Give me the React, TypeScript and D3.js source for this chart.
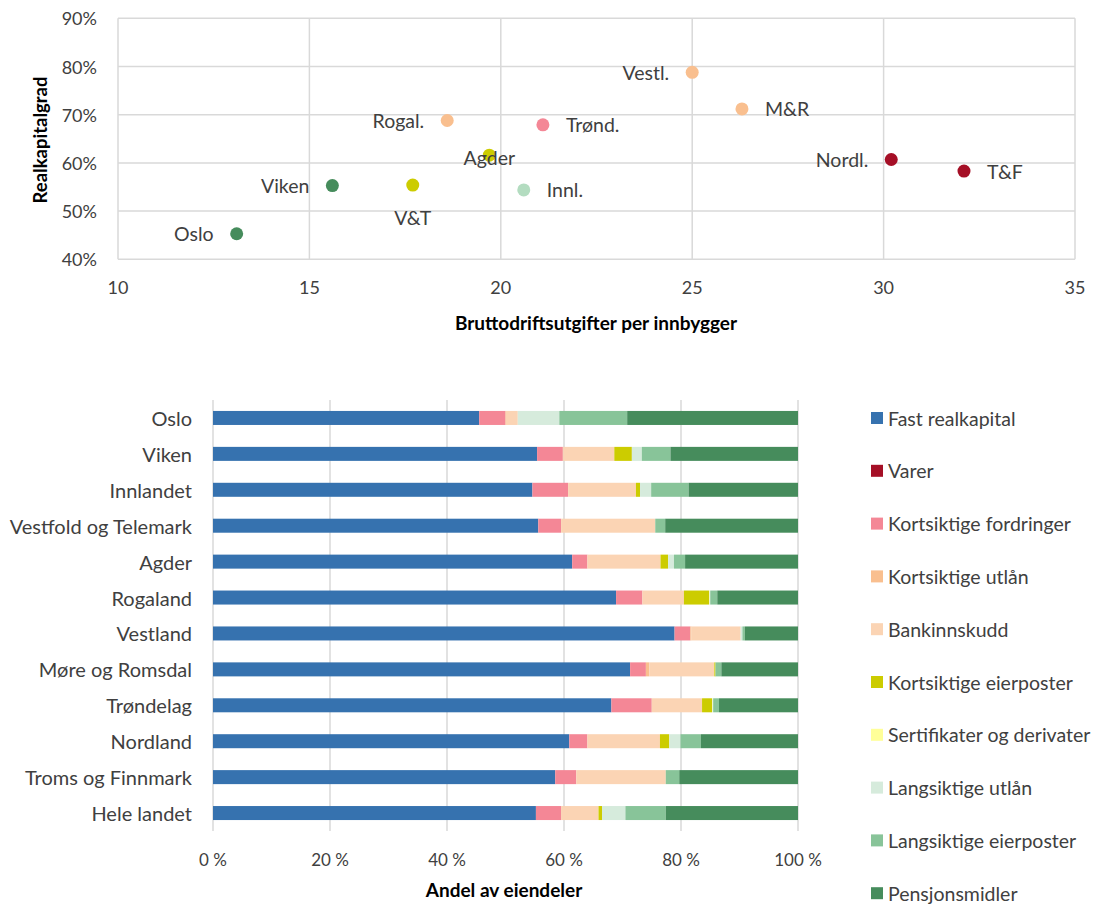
import React from "react";
import * as d3 from "d3";

// ---------- Scatter data ----------
const regionsShort = ["Oslo", "Viken", "V&T", "Rogal.", "Agder", "Innl.", "Trønd.", "Vestl.", "M&R", "Nordl.", "T&F"];
const driftsutgifter = [13.1, 15.6, 17.7, 18.6, 19.7, 20.6, 21.1, 25.0, 26.3, 30.2, 32.1];
const realkapitalgrad = [45.3, 55.3, 55.4, 68.8, 61.6, 54.4, 67.9, 78.8, 71.2, 60.7, 58.3];
const pointColors = ["#468c5c", "#468c5c", "#cccc00", "#f9bf8f", "#cccc00", "#b3dcc0", "#f48796", "#f9bf8f", "#f9bf8f", "#a50f26", "#a50f26"];
// label placement: l = left, r = right, b = below, c = centred
const labelPos = ["l", "l", "b", "l", "c", "r", "r", "l", "r", "l", "r"];
const xTicks = [10, 15, 20, 25, 30, 35];
const yTicks = [40, 50, 60, 70, 80, 90];

// ---------- Stacked bar data ----------
const categories = [
  "Oslo", "Viken", "Innlandet", "Vestfold og Telemark", "Agder", "Rogaland",
  "Vestland", "Møre og Romsdal", "Trøndelag", "Nordland", "Troms og Finnmark", "Hele landet",
];
const seriesNames = [
  "Fast realkapital", "Varer", "Kortsiktige fordringer", "Kortsiktige utlån", "Bankinnskudd",
  "Kortsiktige eierposter", "Sertifikater og derivater", "Langsiktige utlån", "Langsiktige eierposter", "Pensjonsmidler",
];
const seriesColors = ["#3672af", "#a50f26", "#f48796", "#f9bf8f", "#fbd4b4", "#cccc00", "#ffff99", "#d6ebdc", "#88c499", "#468c5c"];

const fastRealkapital = [45.5, 55.4, 54.6, 55.6, 61.4, 68.9, 78.9, 71.3, 68.1, 60.9, 58.5, 55.2];
const varer = [0, 0, 0, 0, 0, 0, 0, 0, 0, 0, 0, 0];
const kortsiktigeFordringer = [4.5, 4.4, 6.1, 3.9, 2.6, 4.5, 2.7, 2.7, 6.9, 3.1, 3.6, 4.3];
const kortsiktigeUtlan = [0.2, 0.1, 0, 0, 0, 0, 0.2, 0.6, 0, 0, 0, 0.1];
const bankinnskudd = [1.9, 8.7, 11.6, 16.1, 12.5, 7.1, 8.4, 11.1, 8.6, 12.4, 15.3, 6.3];
const kortsiktigeEierposter = [0, 3.0, 0.7, 0, 1.3, 4.3, 0, 0.2, 1.7, 1.6, 0, 0.6];
const sertifikater = [0, 0, 0, 0, 0, 0.1, 0, 0, 0.1, 0, 0, 0];
const langsiktigeUtlan = [7.1, 1.7, 1.9, 0, 1.0, 0.1, 0.3, 0, 0.1, 1.9, 0, 4.0];
const langsiktigeEierposter = [11.6, 4.9, 6.4, 1.7, 1.9, 1.2, 0.4, 1.0, 1.0, 3.5, 2.3, 6.9];
const pensjonsmidler = [29.2, 21.8, 18.7, 22.7, 19.3, 13.8, 9.1, 13.1, 13.5, 16.6, 20.3, 22.6];
const barTicks = [0, 20, 40, 60, 80, 100];

const FONT = "Lato, 'DejaVu Sans', sans-serif";
const GRID = "#d9d9d9";
const TXT = "#404040";

export default function App() {
  // scatter scales
  const sx = d3.scaleLinear().domain([10, 35]).range([118, 1075]);
  const sy = d3.scaleLinear().domain([40, 90]).range([259.3, 18.3]);

  // stacked bars
  const seriesArrays = [
    fastRealkapital, varer, kortsiktigeFordringer, kortsiktigeUtlan, bankinnskudd,
    kortsiktigeEierposter, sertifikater, langsiktigeUtlan, langsiktigeEierposter, pensjonsmidler,
  ];
  const rows = categories.map((c, i) => {
    const r: any = { cat: c };
    seriesNames.forEach((s, j) => (r[s] = seriesArrays[j][i]));
    return r;
  });
  const stack = d3.stack().keys(seriesNames)(rows as any);
  const bx = d3.scaleLinear().domain([0, 100]).range([213, 798]);
  const by = d3.scaleBand().domain(categories).range([400, 831]).paddingInner(0.61).paddingOuter(0.305);

  return (
    <svg width={1098} height={905} style={{ display: "block", position: "absolute", left: 0, top: 0 }} fontFamily={FONT}>
      <rect width={1098} height={905} fill="#fff" />
      {/* ===== Scatter ===== */}
      {xTicks.map((t) => (
        <line key={"gx" + t} x1={sx(t)} x2={sx(t)} y1={sy(90)} y2={sy(40)} stroke={GRID} strokeWidth={1.5} />
      ))}
      {yTicks.map((t) => (
        <line key={"gy" + t} x1={sx(10)} x2={sx(35)} y1={sy(t)} y2={sy(t)} stroke={GRID} strokeWidth={1.5} />
      ))}
      {yTicks.map((t) => (
        <text key={"ty" + t} x={97} y={sy(t)} textAnchor="end" dominantBaseline="central" fontSize={18} fill={TXT}>
          {t}%
        </text>
      ))}
      {xTicks.map((t) => (
        <text key={"tx" + t} x={sx(t)} y={287} textAnchor="middle" dominantBaseline="central" fontSize={18} fill={TXT}>
          {t}
        </text>
      ))}
      <text x={40} y={140} transform="rotate(-90 40 140)" textAnchor="middle" dominantBaseline="central" fontSize={18.5} fontWeight="bold" fill="#000">
        Realkapitalgrad
      </text>
      <text x={596} y={322} textAnchor="middle" dominantBaseline="central" fontSize={19} fontWeight="bold" fill="#000">
        Bruttodriftsutgifter per innbygger
      </text>
      {regionsShort.map((r, i) => {
        const cx = sx(driftsutgifter[i]);
        const cy = sy(realkapitalgrad[i]);
        const p = labelPos[i];
        let lx = cx, ly = cy, anchor = "middle";
        if (p === "l") { lx = cx - 23; anchor = "end"; }
        if (p === "r") { lx = cx + 23; anchor = "start"; }
        if (p === "b") { ly = cy + 32; }
        if (p === "c") { ly = cy + 2; }
        return (
          <g key={r}>
            <circle cx={cx} cy={cy} r={6.5} fill={pointColors[i]} />
            <text x={lx} y={ly} textAnchor={anchor} dominantBaseline="central" fontSize={19.5} fill={TXT}>
              {r}
            </text>
          </g>
        );
      })}

      {/* ===== Stacked bars ===== */}
      {barTicks.map((t) => (
        <line key={"bg" + t} x1={bx(t)} x2={bx(t)} y1={400} y2={831} stroke={GRID} strokeWidth={1.5} />
      ))}
      {stack.map((layer, j) => (
        <g key={seriesNames[j]} fill={seriesColors[j]}>
          {layer.map((d: any, i: number) =>
            d[1] - d[0] > 0 ? (
              <rect key={i} x={bx(d[0])} y={by(categories[i])} width={bx(d[1]) - bx(d[0])} height={by.bandwidth()} />
            ) : null
          )}
        </g>
      ))}
      {categories.map((c) => (
        <text key={"cl" + c} x={192} y={(by(c) as number) + by.bandwidth() / 2} textAnchor="end" dominantBaseline="central" fontSize={20} fill={TXT}>
          {c}
        </text>
      ))}
      {barTicks.map((t) => (
        <text key={"bt" + t} x={bx(t)} y={859} textAnchor="middle" dominantBaseline="central" fontSize={17} fill={TXT}>
          {t} %
        </text>
      ))}
      <text x={504} y={889} textAnchor="middle" dominantBaseline="central" fontSize={19} fontWeight="bold" fill="#000">
        Andel av eiendeler
      </text>
      {/* legend */}
      {seriesNames.map((s, j) => (
        <g key={"lg" + s} transform={`translate(871, ${418 + j * 52.8})`}>
          <rect x={0} y={-6} width={12} height={12} fill={seriesColors[j]} />
          <text x={17} y={0} dominantBaseline="central" fontSize={19.5} fill={TXT}>
            {s}
          </text>
        </g>
      ))}
    </svg>
  );
}
